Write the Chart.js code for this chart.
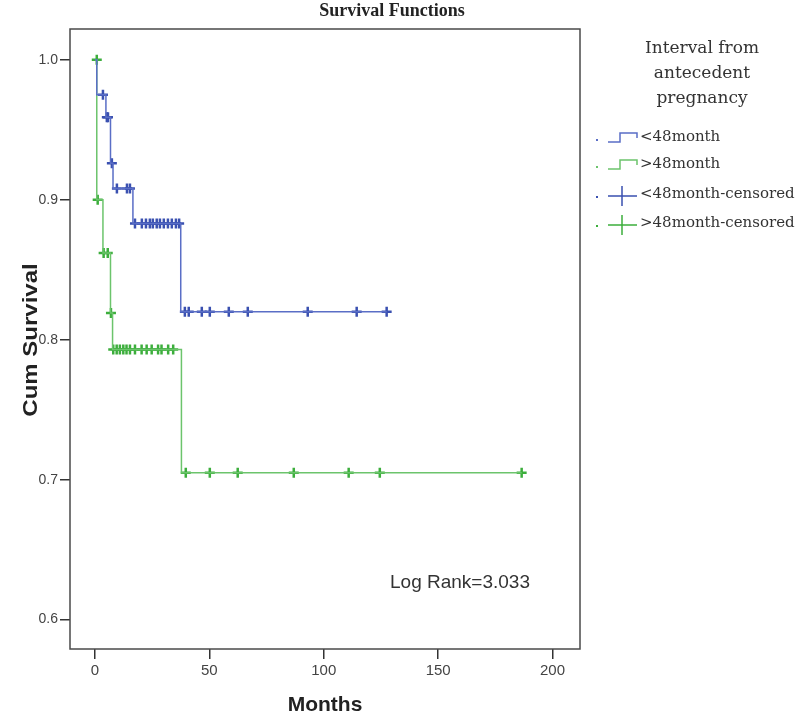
<!DOCTYPE html>
<html>
<head>
<meta charset="utf-8">
<script src="https://cdn.jsdelivr.net/npm/chart.js@4"></script>
<style>
  html, body { margin: 0; padding: 0; background: #fff; }
  #wrap { width: 800px; height: 718px; position: relative; }
</style>
</head>
<body>
<div id="wrap"><canvas id="chart" width="800" height="718"></canvas></div>
<script>
// survival steps (time in months, cumulative survival after the event)
const blueTimes = [0, 0.8, 4.8, 6.8, 7.9, 16.6, 37.5, 127.5];
const blueSurv = [1.0, 0.975, 0.959, 0.926, 0.908, 0.883, 0.82, 0.82];
const blueCensTimes = [3.5, 5.2, 5.7, 7.4, 9.6, 14, 15.3,
  17.5, 20.5, 22.3, 24, 25.3, 27, 28.4, 30.1, 31.9, 33.6, 35.4, 36.8,
  39.3, 41, 46.7, 50.2, 58.5, 66.8, 93, 114.4, 127.5];
const blueCensSurv = [0.975, 0.959, 0.959, 0.926, 0.908, 0.908, 0.908,
  0.883, 0.883, 0.883, 0.883, 0.883, 0.883, 0.883, 0.883, 0.883, 0.883, 0.883, 0.883,
  0.82, 0.82, 0.82, 0.82, 0.82, 0.82, 0.82, 0.82, 0.82];

const greenTimes = [0, 0.8, 3.5, 6.8, 7.7, 37.8, 186.5];
const greenSurv = [1.0, 0.9, 0.862, 0.819, 0.793, 0.705, 0.705];
const greenCensTimes = [0.8, 1.2, 3.8, 5.6, 7.0,
  8.0, 9.5, 10.9, 12.4, 13.8, 15.3, 17.5, 20.4, 22.6, 24.8, 27.6, 29.1, 32, 34.2,
  39.7, 50.2, 62.4, 86.9, 110.9, 124.5, 186.5];
const greenCensSurv = [1.0, 0.9, 0.862, 0.862, 0.819,
  0.793, 0.793, 0.793, 0.793, 0.793, 0.793, 0.793, 0.793, 0.793, 0.793, 0.793, 0.793, 0.793, 0.793,
  0.705, 0.705, 0.705, 0.705, 0.705, 0.705, 0.705];

const xTicks = [0, 50, 100, 150, 200];
const yTicks = [0.6, 0.7, 0.8, 0.9, 1.0];
const legendLabels = ["<48month", ">48month", "<48month-censored", ">48month-censored"];
const legendTitle = ["Interval from", "antecedent", "pregnancy"];

const blueLine = "#5a6ec6";
const blueMark = "#3a50b0";
const greenLine = "#6cc46c";
const greenMark = "#3cae3c";

const toPoints = (xs, ys) => xs.map((x, i) => ({ x: x, y: ys[i] }));

// frame, titles, legend and log rank note
const extras = {
  id: "extras",
  afterDraw(chart) {
    const ctx = chart.ctx;
    const a = chart.chartArea;
    ctx.save();
    ctx.strokeStyle = "#4a4a4a";
    ctx.lineWidth = 1.5;
    ctx.strokeRect(a.left, a.top, a.right - a.left, a.bottom - a.top);

    ctx.fillStyle = "#222";
    ctx.textAlign = "center";
    ctx.textBaseline = "middle";
    ctx.font = "bold 18px 'Liberation Serif'";
    ctx.fillText("Survival Functions", 392, 11);

    // y title, the source picture is stretched a bit in height
    ctx.save();
    ctx.translate(31, 340);
    ctx.rotate(-Math.PI / 2);
    ctx.scale(1.2, 1);
    ctx.font = "bold 20px 'Liberation Sans'";
    ctx.fillText("Cum Survival", 0, 0);
    ctx.restore();

    ctx.font = "17px 'DejaVu Serif'";
    ctx.fillStyle = "#333";
    legendTitle.forEach((t, i) => ctx.fillText(t, 702, 49 + i * 25));

    const colors = [blueLine, greenLine, blueMark, greenMark];
    const rowY = [137, 164, 194, 223];
    ctx.textAlign = "left";
    ctx.font = "15px 'DejaVu Serif'";
    legendLabels.forEach((lab, i) => {
      const y = rowY[i];
      ctx.strokeStyle = colors[i];
      ctx.fillStyle = colors[i];
      ctx.fillRect(596, y + 2, 2, 2);
      ctx.lineWidth = 1.5;
      ctx.beginPath();
      if (i < 2) {
        ctx.moveTo(608, y + 5);
        ctx.lineTo(620, y + 5);
        ctx.lineTo(620, y - 4);
        ctx.lineTo(637, y - 4);
        ctx.lineTo(637, y + 1);
      } else {
        ctx.moveTo(608, y + 2);
        ctx.lineTo(637, y + 2);
        ctx.moveTo(622, y - 8);
        ctx.lineTo(622, y + 12);
      }
      ctx.stroke();
      ctx.fillStyle = "#333";
      ctx.fillText(lab, 640, y);
    });

    ctx.font = "19px 'Liberation Sans'";
    ctx.fillStyle = "#333";
    ctx.fillText("Log Rank=3.033", 390, 583);
    ctx.restore();
  }
};

new Chart(document.getElementById("chart"), {
  type: "line",
  data: {
    datasets: [
      {
        label: "<48month",
        data: toPoints(blueTimes, blueSurv),
        stepped: true,
        borderColor: blueLine,
        borderWidth: 1.5,
        pointRadius: 0,
        fill: false
      },
      {
        label: ">48month",
        data: toPoints(greenTimes, greenSurv),
        stepped: true,
        borderColor: greenLine,
        borderWidth: 1.5,
        pointRadius: 0,
        fill: false
      },
      {
        label: "<48month-censored",
        data: toPoints(blueCensTimes, blueCensSurv),
        showLine: false,
        pointStyle: "cross",
        pointRadius: 5,
        pointBorderWidth: 2.5,
        borderColor: blueMark,
        backgroundColor: blueMark
      },
      {
        label: ">48month-censored",
        data: toPoints(greenCensTimes, greenCensSurv),
        showLine: false,
        pointStyle: "cross",
        pointRadius: 5,
        pointBorderWidth: 2.5,
        borderColor: greenMark,
        backgroundColor: greenMark
      }
    ]
  },
  options: {
    responsive: false,
    animation: false,
    layout: { padding: { top: 29, right: 220, left: 0, bottom: 0 } },
    plugins: {
      legend: { display: false },
      title: { display: false },
      tooltip: { enabled: false }
    },
    scales: {
      x: {
        type: "linear",
        min: -10.9,
        max: 212,
        afterFit: (s) => { s.height = 69; },
        afterBuildTicks: (s) => { s.ticks = xTicks.map((v) => ({ value: v })); },
        border: { display: false },
        grid: { drawOnChartArea: false, drawTicks: true, tickLength: 10, color: "#333", lineWidth: 1.5 },
        ticks: { color: "#444", font: { family: "Liberation Sans", size: 15 }, padding: 3, maxRotation: 0 },
        title: { display: true, text: "Months", color: "#222", font: { family: "Liberation Sans", size: 21, weight: "bold" }, padding: { top: 0, bottom: 0 } }
      },
      y: {
        type: "linear",
        min: 0.579,
        max: 1.022,
        afterFit: (s) => { s.width = 70; },
        afterBuildTicks: (s) => { s.ticks = yTicks.map((v) => ({ value: v })); },
        border: { display: false },
        grid: { drawOnChartArea: false, drawTicks: true, tickLength: 10, color: "#333", lineWidth: 1.5 },
        ticks: { color: "#444", font: { family: "Liberation Sans", size: 14 }, padding: 2, callback: (v) => v.toFixed(1) }
      }
    }
  },
  plugins: [extras]
});
</script>
</body>
</html>
